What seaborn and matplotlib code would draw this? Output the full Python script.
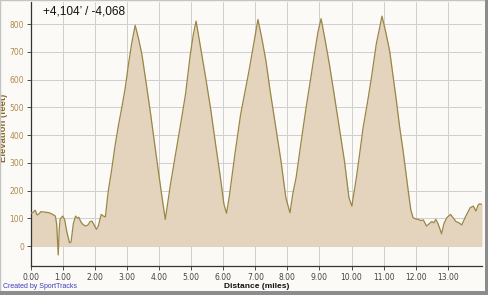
import matplotlib
matplotlib.use("Agg")
import matplotlib.pyplot as plt
import seaborn as sns
import pandas as pd
from matplotlib.patches import Rectangle
from matplotlib.ticker import FormatStrFormatter

distance_mi = [0.00, 0.05, 0.13, 0.19, 0.25, 0.31, 0.45, 0.57, 0.68, 0.76, 0.80, 0.85, 0.88, 0.91, 0.99,
               1.05, 1.12, 1.20, 1.25, 1.32, 1.39, 1.45, 1.49, 1.56, 1.62, 1.70, 1.78, 1.84, 1.90, 1.96,
               2.04, 2.10, 2.19, 2.26, 2.32, 2.41, 2.51, 2.62, 2.72, 2.83, 2.94, 3.04, 3.14, 3.25, 3.35,
               3.46, 3.59, 3.72, 3.82, 3.93, 4.01, 4.09, 4.19, 4.27, 4.35, 4.45, 4.56, 4.69, 4.82, 4.97,
               5.06, 5.15, 5.30, 5.45, 5.61, 5.76, 5.90, 6.02, 6.10, 6.18, 6.36, 6.54, 6.80, 6.95, 7.08,
               7.20, 7.33, 7.46, 7.59, 7.70, 7.80, 7.95, 8.08, 8.17, 8.27, 8.42, 8.58, 8.72, 8.84, 8.95,
               9.05, 9.18, 9.31, 9.44, 9.57, 9.68, 9.78, 9.92, 10.01, 10.15, 10.25, 10.36, 10.50, 10.62,
               10.77, 10.95, 11.07, 11.19, 11.30, 11.40, 11.50, 11.61, 11.70, 11.77, 11.85, 11.92, 12.00,
               12.08, 12.16, 12.24, 12.34, 12.42, 12.50, 12.57, 12.63, 12.70, 12.81, 12.88, 12.97, 13.09,
               13.18, 13.26, 13.35, 13.44, 13.54, 13.62, 13.70, 13.80, 13.88, 13.95, 13.99, 14.07]
elevation_ft = [118, 120, 129, 112, 116, 124, 122, 120, 114, 108, 80, -32, 60, 98, 108,
                95, 50, 12, 14, 80, 108, 100, 104, 86, 78, 72, 76, 88, 90, 78,
                60, 72, 114, 108, 105, 198, 270, 360, 430, 498, 570, 655, 730, 796, 750,
                691, 590, 486, 400, 306, 240, 174, 96, 160, 222, 290, 366, 455, 547, 691,
                760, 811, 710, 607, 490, 366, 255, 150, 118, 174, 330, 475, 631, 730, 817,
                750, 667, 560, 462, 380, 306, 174, 120, 190, 246, 370, 498, 600, 691, 770,
                820, 740, 655, 560, 462, 380, 306, 174, 144, 246, 330, 426, 520, 607,
                727, 829, 770, 703, 610, 523, 430, 342, 260, 198, 130, 102, 98,
                96, 92, 94, 72, 80, 88, 84, 96, 80, 44, 80, 102, 114,
                100, 88, 84, 76, 102, 120, 138, 144, 126, 148, 152, 150]
x_ticks = list(range(0, 14))
y_ticks = list(range(0, 900, 100))
summary_text = "+4,104\u2019 / -4,068"

df = pd.DataFrame({"Distance (miles)": distance_mi, "Elevation (feet)": elevation_ft})

sns.set_theme(style="white")
plt.rcParams["font.family"] = ["DejaVu Sans"]

fig = plt.figure(figsize=(4.89, 2.95), dpi=100)
fig.patch.set_facecolor("#fbfaf6")
ax = fig.add_axes([31 / 489, 29 / 295, 451 / 489, 264 / 295])
ax.set_facecolor("#fbfaf6")

ax.fill_between(df["Distance (miles)"], 0, df["Elevation (feet)"], color="#e4d4bd", linewidth=0, zorder=2)
sns.lineplot(data=df, x="Distance (miles)", y="Elevation (feet)", ax=ax, color="#9a8646",
             linewidth=0.9, zorder=3)

ax.set_xlim(0, 14.07)
ax.set_ylim(-72, 880)
ax.set_xticks(x_ticks)
ax.set_yticks(y_ticks)
ax.xaxis.set_major_formatter(FormatStrFormatter("%.2f"))
ax.grid(True, color="#cfcfcf", linewidth=0.7, zorder=1)
ax.set_axisbelow(True)

for s in ["top", "right"]:
    ax.spines[s].set_visible(False)
for s in ["left", "bottom"]:
    ax.spines[s].set_color("#333333")
    ax.spines[s].set_linewidth(0.9)

ax.tick_params(axis="both", which="major", direction="out", length=3, width=0.6, color="#333333",
               bottom=True, left=True, pad=2)
ax.tick_params(axis="x", labelsize=5.5, labelcolor="#444444")
ax.tick_params(axis="y", labelsize=5.5, labelcolor="#b08a4e")

ax.set_xlabel("Distance (miles)", fontsize=6, fontweight="bold", color="#111111",
              family=["Liberation Sans"])
ax.xaxis.set_label_coords((257 - 31) / 451, -(283 - 266) / 264)
ax.set_ylabel("Elevation (feet)", fontsize=6.8, fontweight="bold", color="#8a6a2a",
              family=["Liberation Sans"])
ax.yaxis.set_label_coords(-(31 - 8) / 451, (266 - 128) / 264)

ax.text(12 / 451, 1 - 3 / 264, summary_text, transform=ax.transAxes, fontsize=8.6, color="#111111",
        ha="left", va="top", family=["Liberation Sans"])

fig.text(3 / 489, 1 - 286 / 295, "Created by SportTracks", fontsize=5, color="#3c3cc0",
         ha="left", va="center", family=["Liberation Sans"])

# image frame: thin light border and drop shadow
fig.patches.append(Rectangle((0, 0), 1, 1, transform=fig.transFigure, fill=False,
                             edgecolor="#c4c4c4", linewidth=1.0))
fig.patches.append(Rectangle((485 / 489, 0), 4 / 489, 1, transform=fig.transFigure,
                             facecolor="#8c8c8c", edgecolor="none"))
fig.patches.append(Rectangle((0, 0), 1, 4 / 295, transform=fig.transFigure,
                             facecolor="#8c8c8c", edgecolor="none"))

fig.savefig("out.png", dpi=100, facecolor=fig.get_facecolor())
